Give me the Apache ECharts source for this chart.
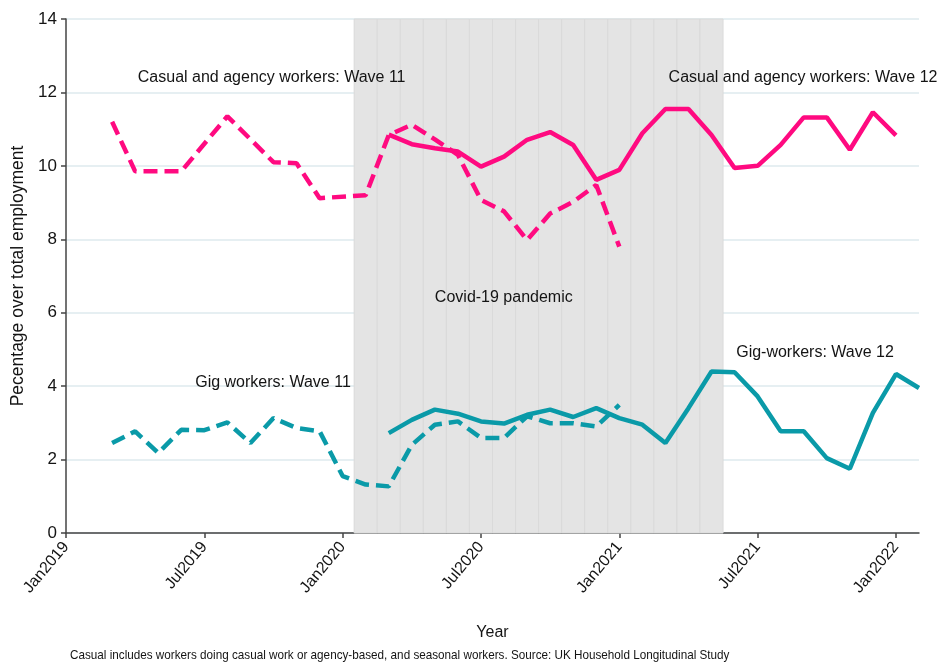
<!DOCTYPE html>
<html>
<head>
<meta charset="utf-8">
<script src="https://cdn.jsdelivr.net/npm/echarts@6/dist/echarts.min.js"></script>
<style>
  html, body { margin: 0; padding: 0; background: #fff; }
  #chart { width: 939px; height: 664px; }
</style>
</head>
<body>
<div id="chart"></div>
<script>
// Month index: 0 = Jan2019
const xTickLabels = ['Jan2019', 'Jul2019', 'Jan2020', 'Jul2020', 'Jan2021', 'Jul2021', 'Jan2022'];
const xTickStep = 6;

// Pandemic months shaded (Feb2020 .. May2021)
const covidMonths = [13, 14, 15, 16, 17, 18, 19, 20, 21, 22, 23, 24, 25, 26, 27, 28];

// Casual and agency workers, Wave 11 (dashed)
const casualW11Months = [2, 3, 5, 7, 9, 10, 11, 13, 14, 15, 16, 17, 18, 19, 20, 21, 22, 23, 24];
const casualW11 = [11.2, 9.85, 9.85, 11.35, 10.1, 10.07, 9.12, 9.2, 10.84, 11.12, 10.72, 10.3, 9.07, 8.76, 7.98, 8.7, 9.02, 9.48, 7.8];

// Casual and agency workers, Wave 12 (solid)
const casualW12Months = [14, 15, 16, 17, 18, 19, 20, 21, 22, 23, 24, 25, 26, 27, 28, 29, 30, 31, 32, 33, 34, 35, 36];
const casualW12 = [10.85, 10.59, 10.48, 10.39, 9.98, 10.25, 10.71, 10.92, 10.57, 9.62, 9.89, 10.89, 11.55, 11.55, 10.84, 9.94, 10.0, 10.57, 11.32, 11.32, 10.44, 11.46, 10.83];

// Gig workers, Wave 11 (dashed)
const gigW11Months = [2, 3, 4, 5, 6, 7, 8, 9, 10, 11, 12, 13, 14, 15, 16, 17, 18, 19, 20, 21, 22, 23, 24];
const gigW11 = [2.45, 2.77, 2.18, 2.81, 2.8, 3.01, 2.45, 3.13, 2.86, 2.77, 1.55, 1.32, 1.27, 2.4, 2.95, 3.04, 2.59, 2.59, 3.18, 2.99, 2.99, 2.9, 3.49];

// Gig workers, Wave 12 (solid)
const gigW12Months = [14, 15, 16, 17, 18, 19, 20, 21, 22, 23, 24, 25, 26, 27, 28, 29, 30, 31, 32, 33, 34, 35, 36, 37];
const gigW12 = [2.72, 3.08, 3.36, 3.25, 3.04, 2.98, 3.22, 3.36, 3.16, 3.4, 3.13, 2.95, 2.45, 3.4, 4.4, 4.38, 3.72, 2.77, 2.77, 2.04, 1.75, 3.27, 4.33, 3.95];

// Text annotations placed in data space
const noteTexts = ['Casual and agency workers: Wave 11', 'Casual and agency workers: Wave 12', 'Covid-19 pandemic', 'Gig workers: Wave 11', 'Gig-workers: Wave 12'];
const noteX = [8.92, 31.97, 18.99, 8.98, 32.49];
const noteY = [12.4, 12.4, 6.41, 4.1, 4.92];

const PINK = '#ff0a80';
const TEAL = '#0a9aa8';
const INK = '#141414';
const FONT = "'Liberation Sans', Arial, Helvetica, sans-serif";

const pairs = (xs, ys) => xs.map((x, i) => [x, ys[i]]);

const chart = echarts.init(document.getElementById('chart'), null, { renderer: 'canvas' });

const tickValues = xTickLabels.map((_, i) => i * xTickStep);

chart.setOption({
  animation: false,
  backgroundColor: '#fff',
  grid: { left: 66, right: 20, top: 19, bottom: 131, containLabel: false, outerBoundsMode: 'none' },
  xAxis: {
    type: 'value',
    min: 0,
    max: 37,
    interval: xTickStep,
    name: 'Year',
    nameLocation: 'middle',
    nameGap: 92,
    nameTextStyle: { fontFamily: FONT, fontSize: 16, color: INK },
    axisLine: { show: true, lineStyle: { color: '#444', width: 1.5 } },
    axisTick: { show: true, length: 5, customValues: tickValues, lineStyle: { color: '#444', width: 1.5 } },
    axisLabel: {
      customValues: tickValues,
      rotate: 50,
      margin: 11,
      fontFamily: FONT,
      fontSize: 16,
      color: INK,
      formatter: v => xTickLabels[Math.round(v / xTickStep)] || ''
    },
    splitLine: { show: false }
  },
  yAxis: {
    type: 'value',
    min: 0,
    max: 14,
    interval: 2,
    name: 'Pecentage over total employment',
    nameLocation: 'middle',
    nameGap: 38,
    nameTextStyle: { fontFamily: FONT, fontSize: 17.5, color: INK },
    axisLine: { show: true, lineStyle: { color: '#444', width: 1.5 } },
    axisTick: { show: true, length: 5, lineStyle: { color: '#444', width: 1.5 } },
    axisLabel: { fontFamily: FONT, fontSize: 17, color: INK, margin: 9 },
    splitLine: { show: true, lineStyle: { color: '#e6eff2', width: 2 } }
  },
  graphic: [{
    type: 'text',
    left: 70,
    top: 649,
    scaleX: 0.9,
    style: {
      text: 'Casual includes workers doing casual work or agency-based, and seasonal workers. Source: UK Household Longitudinal Study',
      font: "13px 'Liberation Sans', Arial, sans-serif",
      fill: INK
    }
  }],
  series: [
    {
      type: 'custom',
      name: 'pandemic',
      silent: true,
      z: 1,
      data: covidMonths.map(m => [m]),
      renderItem: (params, api) => {
        const m = api.value(0);
        const p0 = api.coord([m - 0.5, 14]);
        const p1 = api.coord([m + 0.5, 0]);
        return {
          type: 'rect',
          shape: { x: p0[0], y: p0[1], width: p1[0] - p0[0], height: p1[1] - p0[1] },
          style: { fill: '#e4e4e4', stroke: '#dadada', lineWidth: 1 }
        };
      }
    },
    {
      type: 'line', name: 'Casual W11', z: 3, showSymbol: false, symbol: 'none',
      data: pairs(casualW11Months, casualW11),
      lineStyle: { color: PINK, width: 4.5, type: [14, 7] }
    },
    {
      type: 'line', name: 'Casual W12', z: 3, showSymbol: false, symbol: 'none',
      data: pairs(casualW12Months, casualW12),
      lineStyle: { color: PINK, width: 4.5 }
    },
    {
      type: 'line', name: 'Gig W11', z: 3, showSymbol: false, symbol: 'none',
      data: pairs(gigW11Months, gigW11),
      lineStyle: { color: TEAL, width: 4.5, type: [14, 7] }
    },
    {
      type: 'line', name: 'Gig W12', z: 3, showSymbol: false, symbol: 'none',
      data: pairs(gigW12Months, gigW12),
      lineStyle: { color: TEAL, width: 4.5 }
    },
    {
      type: 'scatter', name: 'notes', z: 5, silent: true,
      symbolSize: 1,
      itemStyle: { color: 'transparent', opacity: 1 },
      data: noteTexts.map((t, i) => ({ name: t, value: [noteX[i], noteY[i]] })),
      label: {
        show: true, position: 'inside', formatter: '{b}', opacity: 1,
        fontFamily: FONT, fontSize: 16, color: INK
      }
    }
  ]
});
</script>
</body>
</html>
